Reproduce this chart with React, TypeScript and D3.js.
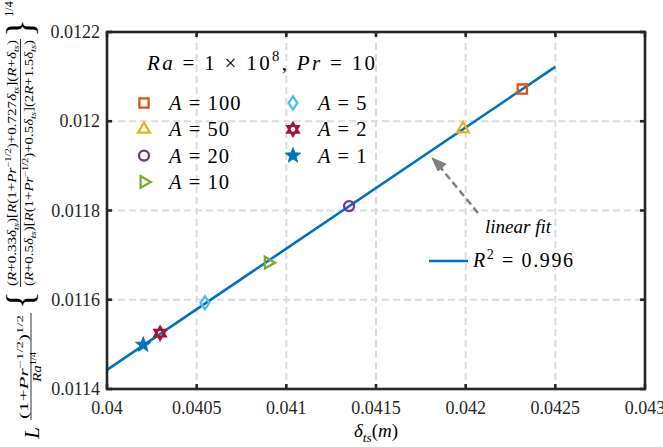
import React from 'react';
import * as d3 from 'd3';

// ---------- data ----------
const seriesNames = ['A = 100', 'A = 50', 'A = 20', 'A = 10', 'A = 5', 'A = 2', 'A = 1'];
const deltaTs = [0.042316, 0.041985, 0.04135, 0.040899, 0.040546, 0.040296, 0.040202];
const scaledL = [0.012072, 0.011983, 0.01181, 0.011683, 0.011593, 0.011525, 0.011499];
const markerKinds = ['square', 'triUp', 'circle', 'triRight', 'diamond', 'hexagram', 'star'];
const markerColors = ['#D95319', '#EDB120', '#7E2F8E', '#77AC30', '#4DBEEE', '#A2142F', '#0072BD'];
const fitX = [0.04, 0.0425];
const fitY = [0.011443, 0.012122];
const xTicks = [0.04, 0.0405, 0.041, 0.0415, 0.042, 0.0425, 0.043];
const xTickLabels = ['0.04', '0.0405', '0.041', '0.0415', '0.042', '0.0425', '0.043'];
const yTicks = [0.0114, 0.0116, 0.0118, 0.012, 0.0122];
const yTickLabels = ['0.0114', '0.0116', '0.0118', '0.012', '0.0122'];
const r2Label = '0.996';

// ---------- layout ----------
const W = 663, H = 447;
const M = { left: 107, right: 645, top: 32, bottom: 389 };
const FONT = '"Liberation Serif", "DejaVu Serif", serif';

type Seg = { t: string; i?: boolean; s?: 'sup' | 'sub' };

function MathText(props: { x: number; y: number; fs: number; segs: Seg[]; anchor?: string; len?: number; adjust?: string; fill?: string }) {
  const { x, y, fs, segs, anchor = 'start', len, adjust = 'spacingAndGlyphs', fill = '#000' } = props;
  let cur = 0;
  const spans = segs.map((sg, k) => {
    const target = sg.s === 'sup' ? -0.42 * fs : sg.s === 'sub' ? 0.24 * fs : 0;
    const dy = target - cur;
    cur = target;
    return (
      <tspan key={k} dy={dy} fontStyle={sg.i ? 'italic' : 'normal'} fontSize={sg.s ? fs * 0.7 : fs}>
        {sg.t}
      </tspan>
    );
  });
  const extra: any = {};
  if (len) {
    extra.textLength = len;
    extra.lengthAdjust = adjust;
  }
  return (
    <text x={x} y={y} fontSize={fs} textAnchor={anchor} fill={fill} style={{ fontFamily: FONT }} {...extra}>
      {spans}
    </text>
  );
}

function starPath(ro: number, ri: number) {
  const pts: [number, number][] = [];
  for (let k = 0; k < 10; k++) {
    const a = -Math.PI / 2 + (k * Math.PI) / 5;
    const r = k % 2 === 0 ? ro : ri;
    pts.push([r * Math.cos(a), r * Math.sin(a)]);
  }
  return 'M' + pts.map((p) => p.join(',')).join('L') + 'Z';
}

function triPath(r: number, rot: number) {
  const pts: [number, number][] = [];
  for (let k = 0; k < 3; k++) {
    const a = rot + (k * 2 * Math.PI) / 3;
    pts.push([r * Math.cos(a), r * Math.sin(a)]);
  }
  return 'M' + pts.map((p) => p.join(',')).join('L') + 'Z';
}

function Marker({ kind, color, x, y }: { kind: string; color: string; x: number; y: number }) {
  const common = { fill: 'none', stroke: color, strokeWidth: 2.3 } as any;
  let d = '';
  if (kind === 'square') d = 'M-4.6,-4.6L4.6,-4.6L4.6,4.6L-4.6,4.6Z';
  else if (kind === 'triUp') d = triPath(6.8, -Math.PI / 2);
  else if (kind === 'triRight') d = triPath(6.8, 0);
  else if (kind === 'diamond') d = 'M0,-6.6L4.4,0L0,6.6L-4.4,0Z';
  else if (kind === 'circle') return <circle cx={x} cy={y} r={5} {...common} />;
  else if (kind === 'hexagram') {
    d = triPath(6.6, -Math.PI / 2) + triPath(6.6, Math.PI / 2);
    return <path d={d} transform={`translate(${x},${y})`} fill="none" stroke={color} strokeWidth={2.2} strokeLinejoin="miter" />;
  } else if (kind === 'star') {
    d = starPath(8.2, 3.4);
    return <path d={d} transform={`translate(${x},${y})`} fill={color} stroke={color} strokeWidth={0.8} />;
  }
  return <path d={d} transform={`translate(${x},${y})`} {...common} strokeLinejoin="miter" />;
}

export default function App() {
  const x = d3.scaleLinear().domain([0.04, 0.043]).range([M.left, M.right]);
  const y = d3.scaleLinear().domain([0.0114, 0.0122]).range([M.bottom, M.top]);

  const line = d3
    .line<number>()
    .x((_, i) => x(fitX[i]))
    .y((d) => y(d));

  const axisColor = '#262626';
  const gridColor = '#DCDCDC';

  const smallNum: Seg[] = [{ t: '(1+' }, { t: 'Pr', i: true }, { t: '−1/2', s: 'sup' }, { t: ')' }, { t: '1/2', s: 'sup' }];
  const smallDen: Seg[] = [{ t: 'Ra', i: true }, { t: '1/4', s: 'sup' }];
  const bigNum: Seg[] = [
    { t: '(' }, { t: 'R', i: true }, { t: '+0.33' }, { t: 'δ', i: true }, { t: 'ts', i: true, s: 'sub' },
    { t: ')[' }, { t: 'R', i: true }, { t: '(1+' }, { t: 'Pr', i: true }, { t: '−1/2', s: 'sup' },
    { t: ')+0.727' }, { t: 'δ', i: true }, { t: 'ts', i: true, s: 'sub' }, { t: '](' }, { t: 'R', i: true },
    { t: '+' }, { t: 'δ', i: true }, { t: 'ts', i: true, s: 'sub' }, { t: ')' },
  ];
  const bigDen: Seg[] = [
    { t: '(' }, { t: 'R', i: true }, { t: '+0.5' }, { t: 'δ', i: true }, { t: 'ts', i: true, s: 'sub' },
    { t: ')[' }, { t: 'R', i: true }, { t: '(1+' }, { t: 'Pr', i: true }, { t: '−1/2', s: 'sup' },
    { t: ')+0.5' }, { t: 'δ', i: true }, { t: 'ts', i: true, s: 'sub' }, { t: '](2' }, { t: 'R', i: true },
    { t: '+1.5' }, { t: 'δ', i: true }, { t: 'ts', i: true, s: 'sub' }, { t: ')' },
  ];

  const txt = { fontFamily: FONT } as any;

  return (
    <svg width={W} height={H} style={{ position: 'absolute', left: 0, top: 0, background: '#fff', fontFamily: FONT }}>
      <rect x={0} y={0} width={W} height={H} fill="#fff" />
      {/* grid */}
      {xTicks.slice(1, -1).map((t) => (
        <line key={'gx' + t} x1={x(t)} x2={x(t)} y1={M.top} y2={M.bottom} stroke={gridColor} strokeWidth={2} strokeDasharray="7,4" />
      ))}
      {yTicks.slice(1, -1).map((t) => (
        <line key={'gy' + t} x1={M.left} x2={M.right} y1={y(t)} y2={y(t)} stroke={gridColor} strokeWidth={2} strokeDasharray="7,4" />
      ))}

      {/* fit line */}
      <path d={line(fitY) || ''} fill="none" stroke="#0072BD" strokeWidth={2.6} />

      {/* data markers */}
      {deltaTs.map((v, i) => (
        <Marker key={'m' + i} kind={markerKinds[i]} color={markerColors[i]} x={x(v)} y={y(scaledL[i])} />
      ))}

      {/* axes box + ticks */}
      <rect x={M.left} y={M.top} width={M.right - M.left} height={M.bottom - M.top} fill="none" stroke={axisColor} strokeWidth={2.6} />
      {xTicks.map((t) => (
        <g key={'tx' + t}>
          <line x1={x(t)} x2={x(t)} y1={M.bottom} y2={M.bottom - 5} stroke={axisColor} strokeWidth={2.6} />
          <line x1={x(t)} x2={x(t)} y1={M.top} y2={M.top + 5} stroke={axisColor} strokeWidth={2.6} />
        </g>
      ))}
      {yTicks.map((t) => (
        <g key={'ty' + t}>
          <line x1={M.left} x2={M.left + 5} y1={y(t)} y2={y(t)} stroke={axisColor} strokeWidth={2.6} />
          <line x1={M.right} x2={M.right - 5} y1={y(t)} y2={y(t)} stroke={axisColor} strokeWidth={2.6} />
        </g>
      ))}
      {xTicks.map((t, i) => (
        <text key={'lx' + t} x={x(t)} y={M.bottom + 25} textAnchor="middle" fontSize={18} fill="#262626" style={txt}>
          {xTickLabels[i]}
        </text>
      ))}
      {yTicks.map((t, i) => (
        <text key={'ly' + t} x={M.left - 7} y={y(t) + 6} textAnchor="end" fontSize={18} fill="#262626" style={txt}>
          {yTickLabels[i]}
        </text>
      ))}

      {/* x label */}
      <MathText x={(M.left + M.right) / 2} y={437} fs={19} anchor="middle"
        segs={[{ t: 'δ', i: true }, { t: 'ts', i: true, s: 'sub' }, { t: '(' }, { t: 'm', i: true }, { t: ')' }]} />

      {/* y label (rotated) */}
      <g transform={`translate(0,${H}) rotate(-90)`}>
        <text x={14} y={39} fontSize={21} fontStyle="italic" textAnchor="middle" style={txt}>L</text>
        <MathText x={80} y={28} fs={12} anchor="middle" segs={smallNum} len={104} />
        <line x1={27} x2={134} y1={31} y2={31} stroke="#000" strokeWidth={0.8} />
        <MathText x={80} y={41} fs={12} anchor="middle" segs={smallDen} len={30} />
        <text x={147} y={33} fontSize={38} textAnchor="middle" style={txt}>{'{'}</text>
        <MathText x={284} y={16} fs={11.5} anchor="middle" segs={bigNum} len={246} />
        <line x1={160} x2={408} y1={20.5} y2={20.5} stroke="#000" strokeWidth={0.8} />
        <MathText x={284} y={33} fs={11.5} anchor="middle" segs={bigDen} len={246} />
        <text x={419} y={33} fontSize={38} textAnchor="middle" style={txt}>{'}'}</text>
        <text x={438} y={13} fontSize={12} textAnchor="middle" style={txt}>1/4</text>
      </g>

      {/* legend title */}
      <MathText x={147} y={70} fs={21} len={228} adjust="spacing"
        segs={[{ t: 'Ra', i: true }, { t: ' = 1 × 10' }, { t: '8', s: 'sup' }, { t: ', ' }, { t: 'Pr', i: true }, { t: ' = 10' }]} />

      {/* legend entries */}
      {seriesNames.map((name, i) => {
        const col = i < 4 ? 0 : 1;
        const row = i < 4 ? i : i - 4;
        const mx = col === 0 ? 144 : 293;
        const ty = 103 + row * 26.3;
        const parts = name.split(' = ');
        return (
          <g key={'lg' + i}>
            <Marker kind={markerKinds[i]} color={markerColors[i]} x={mx} y={ty} />
            <MathText x={mx + 25} y={ty + 7} fs={20.5} len={37 + 11.5 * parts[1].length} adjust="spacing"
              segs={[{ t: parts[0], i: true }, { t: ' = ' + parts[1] }]} />
          </g>
        );
      })}

      {/* annotation arrow */}
      <line x1={478} y1={213} x2={440} y2={167} stroke="#808080" strokeWidth={2.5} strokeDasharray="7,4" />
      <path d="M432,158 L446,164 L438,171 Z" fill="#808080" stroke="#808080" strokeWidth={1} />
      <text x={518} y={233} fontSize={19} fontStyle="italic" textAnchor="middle" style={txt}>linear fit</text>

      {/* fit legend */}
      <line x1={429} x2={468} y1={261} y2={261} stroke="#0072BD" strokeWidth={2.6} />
      <MathText x={473} y={267} fs={20} len={100} adjust="spacing"
        segs={[{ t: 'R', i: true }, { t: '2', s: 'sup' }, { t: ' = ' + r2Label }]} />
    </svg>
  );
}
